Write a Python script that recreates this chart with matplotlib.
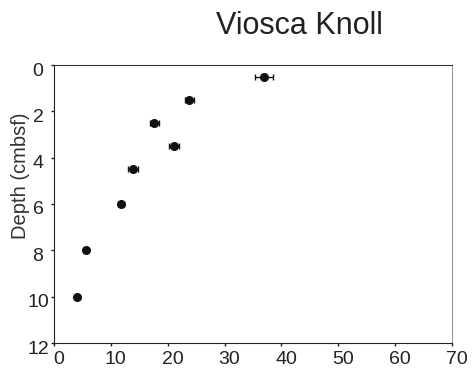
import matplotlib
matplotlib.use("Agg")
import matplotlib.pyplot as plt
import matplotlib.transforms as mtransforms

plt.rcParams["font.family"] = ["Liberation Sans", "DejaVu Sans"]

# Viosca Knoll depth profile
depth = [0.5, 1.5, 2.5, 3.5, 4.5, 6.0, 8.0, 10.0]
value = [36.9, 23.8, 17.6, 21.1, 13.9, 11.8, 5.6, 4.0]
err = [1.6, 0.8, 0.8, 0.8, 0.8, 0.5, 0.3, 0.3]

fig = plt.figure(figsize=(4.75, 3.77), dpi=100)
ax = fig.add_axes([54 / 475, 1 - 343 / 377, (452 - 54) / 475, (343 - 65) / 377])

ax.errorbar(value, depth, xerr=err, fmt="o", color="#111111", ms=5.5,
            elinewidth=1, capsize=2.5, capthick=1)

ax.set_xlim(0, 70)
ax.set_ylim(12, 0)
ax.set_xticks(range(0, 71, 10))
ax.set_yticks(range(0, 13, 2))
ax.tick_params(labelsize=14, length=2.5, width=1, color="#222222",
               labelcolor="#222222")
ax.tick_params(axis="x", pad=3.5)
ax.tick_params(axis="y", pad=9)

# tick labels sit a little off their ticks in the original
xoff = mtransforms.ScaledTranslation(5 / 100, 0, fig.dpi_scale_trans)
for lbl in ax.get_xticklabels():
    lbl.set_transform(lbl.get_transform() + xoff)
yoff = mtransforms.ScaledTranslation(0, -4 / 100, fig.dpi_scale_trans)
for lbl in ax.get_yticklabels():
    lbl.set_horizontalalignment("center")
    lbl.set_transform(lbl.get_transform() + yoff)

ax.set_ylabel("Depth (cmbsf)", fontsize=14.5, color="#333333")
ax.yaxis.set_label_coords(-0.06, 0.60)

ax.spines["right"].set_color("#999999")
ax.spines["top"].set_color("#333333")
ax.spines["left"].set_color("#222222")
ax.spines["bottom"].set_color("#222222")

fig.text(299 / 475, 1 - 26 / 377, "Viosca Knoll", fontsize=22, ha="center",
         va="center", color="#222222")

fig.savefig("out.png", dpi=100)
